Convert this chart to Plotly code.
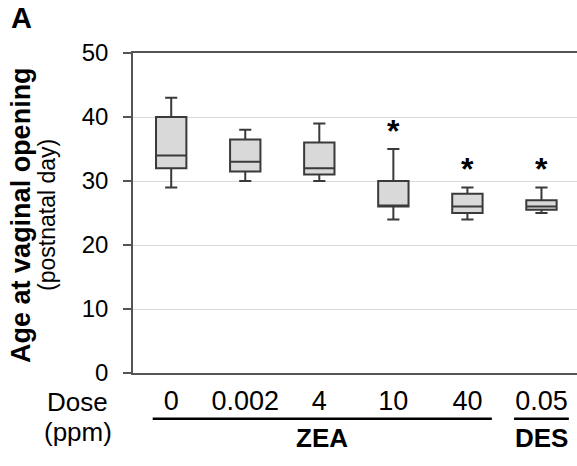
import plotly.graph_objects as go

# Dose groups (ppm) and box summaries of age at vaginal opening (postnatal day)
doses = ["0", "0.002", "4", "10", "40", "0.05"]
lower_whisker = [29, 30, 30, 24, 24, 25]
q1 = [32, 31.5, 31, 26, 25, 25.5]
median = [34, 33, 32, 26, 26, 26]
q3 = [40, 36.5, 36, 30, 28, 27]
upper_whisker = [43, 38, 39, 35, 29, 29]
significant = [False, False, False, True, True, True]
treatments = [("ZEA", [0, 1, 2, 3, 4]), ("DES", [5])]

W_FIG, H_FIG = 577, 466
L, R, T, B = 133.3, 0, 52.7, 93.3
PW = W_FIG - L - R
PH = H_FIG - T - B


def px_x(px):
    return (px - L) / PW


def px_y(py):
    return (T + PH - py) / PH


FONT = "Liberation Sans, Arial, sans-serif"
positions = list(range(len(doses)))

fig = go.Figure()
fig.add_trace(go.Box(
    x=positions,
    q1=q1, median=median, q3=q3,
    lowerfence=lower_whisker, upperfence=upper_whisker,
    boxpoints=False,
    width=0.41,
    whiskerwidth=0.4,
    fillcolor="#d9d9d9",
    line=dict(color="#3a3a3a", width=2),
    hoverinfo="skip",
    showlegend=False,
))

annotations = []
# significance markers above the upper whisker
for i, sig in enumerate(significant):
    if sig:
        annotations.append(dict(
            x=i, y=upper_whisker[i], xref="x", yref="y",
            text="<b>*</b>", showarrow=False, yanchor="bottom", yshift=-2,
            font=dict(family=FONT, size=32, color="black"),
        ))

# treatment group underlines and labels
shapes = []
for name, idx in treatments:
    if len(idx) > 1:
        x0, x1 = idx[0] - 0.25, idx[-1] + 0.33
    else:
        x0, x1 = idx[0] - 0.37, idx[0] + 0.37
    shapes.append(dict(type="line", xref="x", yref="paper",
                       x0=x0, x1=x1, y0=px_y(418.5), y1=px_y(418.5),
                       line=dict(color="black", width=2.5)))
    annotations.append(dict(
        x=(x0 + x1) / 2, y=px_y(438), xref="x", yref="paper",
        text="<b>%s</b>" % name, showarrow=False,
        xanchor="center", yanchor="middle",
        font=dict(family=FONT, size=26, color="black"),
    ))


def label(px, py, text, size, angle=0):
    return dict(x=px_x(px), y=px_y(py), xref="paper", yref="paper",
                text=text, textangle=angle, showarrow=False,
                xanchor="center", yanchor="middle",
                font=dict(family=FONT, size=size, color="black"))


annotations += [
    label(78, 402, "Dose", 26),
    label(78, 432, "(ppm)", 26),
    label(22, 215, "<b>Age at vaginal opening</b>", 27, -90),
    label(48, 215, "(postnatal day)", 23, -90),
    label(22, 18, "<b>A</b>", 29),
]

fig.update_layout(
    width=W_FIG, height=H_FIG,
    margin=dict(l=L, r=R, t=T, b=B, pad=0),
    paper_bgcolor="white", plot_bgcolor="white",
    font=dict(family=FONT, color="black"),
    annotations=annotations,
    shapes=shapes,
    xaxis=dict(
        range=[-0.516, 5.48],
        tickvals=positions, ticktext=doses,
        tickfont=dict(size=27, color="black"),
        ticks="", showgrid=False, zeroline=False,
        showline=True, linecolor="#555555", linewidth=1.5, mirror=True,
        ticklabelstandoff=3,
    ),
    yaxis=dict(
        range=[0, 50], dtick=10,
        tickfont=dict(size=24, color="black"),
        showgrid=True, gridcolor="#d9d9d9", gridwidth=1,
        zeroline=False,
        showline=True, linecolor="#555555", linewidth=1.5,
        ticks="outside", ticklen=8, tickcolor="#555555", tickwidth=1.5,
        ticklabelstandoff=10,
    ),
)

fig.write_html("out.html")
